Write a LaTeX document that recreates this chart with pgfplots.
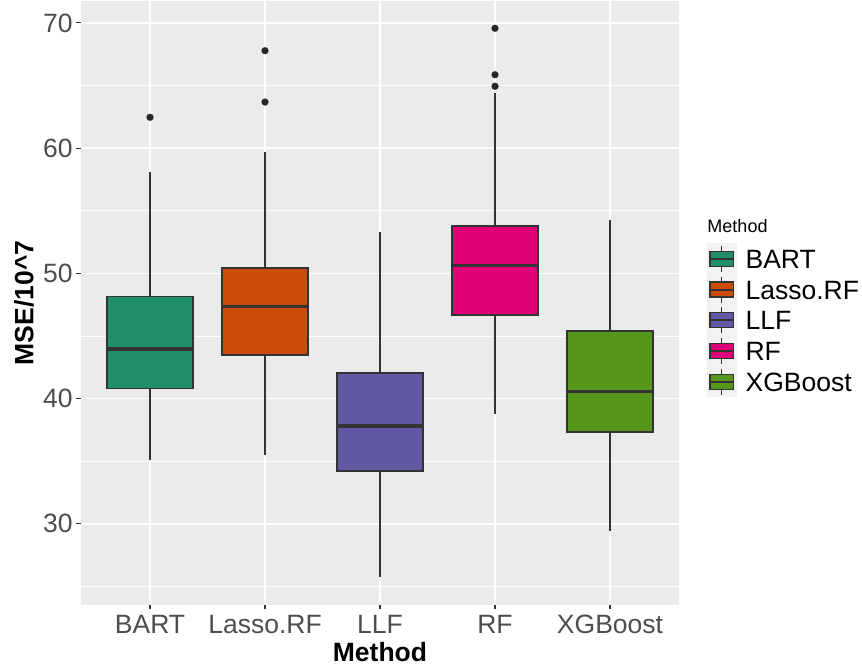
\documentclass[border=0pt]{standalone}
\usepackage{pgfplots}
\pgfplotsset{compat=1.18}
\usepgfplotslibrary{statistics}
\usepackage{fontspec}
\setmainfont{Liberation Sans}
\definecolor{panelbg}{HTML}{EBEBEB}
\definecolor{keybg}{HTML}{F2F2F2}
\definecolor{ticklab}{HTML}{4D4D4D}
\definecolor{tickc}{HTML}{333333}
\definecolor{boxline}{HTML}{333333}
\definecolor{outc}{HTML}{262626}
\definecolor{cBART}{RGB}{30,143,102}
\definecolor{cLasso}{RGB}{204,74,10}
\definecolor{cLLF}{RGB}{97,88,164}
\definecolor{cRF}{RGB}{222,0,119}
\definecolor{cXGB}{RGB}{86,150,26}
\pgfplotsset{
  mybox/.style={solid, draw=boxline, line width=1.6pt, fill=#1, mark=*, mark size=3.5pt,
    mark options={draw=outc, fill=outc, line width=0.1pt},
    legend image code/.code={
      \fill[keybg] (0pt,-14.6pt) rectangle (28.3pt,14.6pt);
      \draw[line width=1.2pt] (14.15pt,-13pt) -- (14.15pt,13pt);
      \filldraw[line width=1.2pt] (2.5pt,-7.5pt) rectangle (25.8pt,7.5pt);
      \draw[line width=2pt] (2.5pt,0pt) -- (25.8pt,0pt);
    }},
}
\begin{document}
\begin{tikzpicture}
\useasboundingbox (0pt,0pt) rectangle (862pt,666pt);
\begin{axis}[
  at={(81pt,61pt)}, anchor=south west,
  width=598pt, height=604pt, scale only axis,
  xmin=0.4, xmax=5.6, ymin=23.51, ymax=71.75,
  axis line style={draw=none},
  axis background/.style={fill=panelbg},
  xtick={1,2,3,4,5}, xticklabels={BART,Lasso.RF,LLF,RF,XGBoost},
  ytick={30,40,50,60,70}, minor ytick={25,35,45,55,65},
  grid=both,
  major grid style={white, line width=1.6pt},
  minor grid style={white, line width=0.8pt},
  tick align=outside, tick pos=left,
  major tick length=4.5pt, minor tick length=0pt,
  tick style={tickc, line width=1.1pt},
  /pgf/number format/assume math mode=true,
  ticklabel style={font=\fontsize{26.5}{30}\selectfont, text=ticklab, inner sep=0pt},
  xticklabel style={anchor=north, yshift=-5.5pt},
  yticklabel style={anchor=east, xshift=-3.8pt},
  xlabel={Method}, ylabel={MSE/10\textasciicircum 7},
  label style={font=\bfseries\fontsize{26.5}{30}\selectfont, text=black, inner sep=0pt},
  xlabel style={at={(axis description cs:0.5,-0.0778)}, anchor=center},
  ylabel style={at={(axis description cs:-0.0953,0.5)}, anchor=center, rotate=0},
  boxplot/draw direction=y,
  boxplot/box extend=0.75,
  boxplot/whisker extend=0,
  boxplot/every median/.style={line width=3.4pt},
  boxplot/every whisker/.style={line width=1.4pt},
  legend style={at={(axis description cs:1.0463,0.5988)}, anchor=north west,
    draw=none, fill=none, inner sep=0pt, outer sep=0pt, row sep=0pt, column sep=9pt,
    font=\fontsize{26.5}{30}\selectfont,
    nodes={inner sep=0pt, text height=24.15pt, text depth=5.15pt}},
  legend cell align=left,
  clip=false,
]
\addplot+[boxplot prepared={draw position=1, lower whisker=35.11, lower quartile=40.81, median=43.95, upper quartile=48.16, upper whisker=58.07}, mybox=cBART]
  table[row sep=\\, y index=0] {data\\ 62.46\\};
\addlegendentry{BART}
\addplot+[boxplot prepared={draw position=2, lower whisker=35.51, lower quartile=43.50, median=47.33, upper quartile=50.42, upper whisker=59.71}, mybox=cLasso]
  table[row sep=\\, y index=0] {data\\ 63.68\\ 67.78\\};
\addlegendentry{Lasso.RF}
\addplot+[boxplot prepared={draw position=3, lower whisker=25.72, lower quartile=34.21, median=37.80, upper quartile=42.04, upper whisker=53.27}, mybox=cLLF]
  coordinates {};
\addlegendentry{LLF}
\addplot+[boxplot prepared={draw position=4, lower whisker=38.76, lower quartile=46.67, median=50.64, upper quartile=53.80, upper whisker=64.38}, mybox=cRF]
  table[row sep=\\, y index=0] {data\\ 64.94\\ 65.86\\ 69.57\\};
\addlegendentry{RF}
\addplot+[boxplot prepared={draw position=5, lower whisker=29.39, lower quartile=37.35, median=40.57, upper quartile=45.39, upper whisker=54.28}, mybox=cXGB]
  coordinates {};
\addlegendentry{XGBoost}
\node[anchor=base west, inner sep=0pt, font=\fontsize{18}{20}\selectfont, text=black]
  at (axis description cs:1.0473,0.6175) {Method};
\end{axis}
\end{tikzpicture}
\end{document}
